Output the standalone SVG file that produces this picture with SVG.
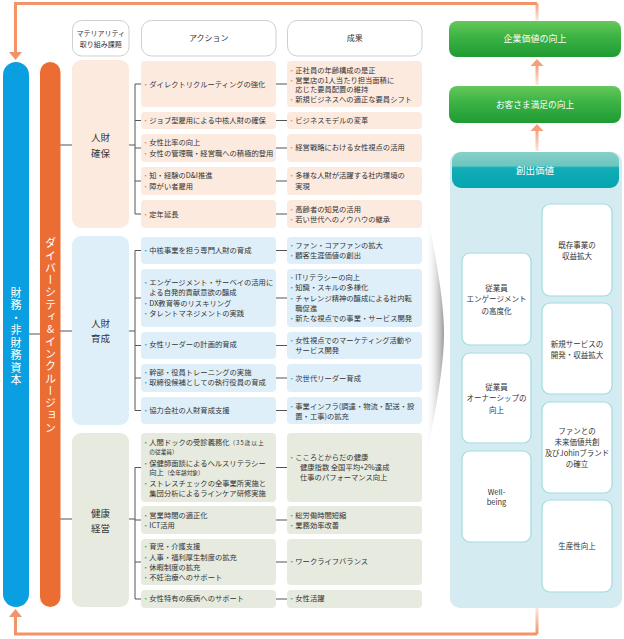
<svg xmlns="http://www.w3.org/2000/svg" width="624" height="639" viewBox="0 0 624 639">
<defs>
<style>
text{font-family:"Noto Sans CJK JP","Noto Sans",sans-serif;}
.t{font-size:7.3px;fill:#333;}
.s{font-size:5.7px;}
.bo{fill:#f08a4b;} .bb{fill:#2aa3dc;} .bg{fill:#3cae3c;}
.hd{fill:#fff;stroke:#cfcfcf;stroke-width:1;}
.ht{font-size:8px;fill:#333;text-anchor:middle;}
.pk{fill:#fdeadf;} .lb{fill:#dfeff9;} .gn{fill:#e6eadf;}
.cat{font-size:9.5px;fill:#333;text-anchor:middle;}
.ln{stroke:#555;stroke-width:1;fill:none;}
.ib{fill:#fff;stroke:#9fdbe2;stroke-width:1.2;}
.it{font-size:7.5px;fill:#333;text-anchor:middle;}
.wt{fill:#fff;text-anchor:middle;}
.ar{stroke:#f3936a;stroke-width:3;fill:none;}
.ah{fill:#f3936a;}
.vt{writing-mode:vertical-rl;text-orientation:upright;font-size:11px;fill:#fff;text-anchor:middle;}
</style>
<linearGradient id="gGreen" x1="0" y1="0" x2="0" y2="1">
<stop offset="0" stop-color="#66c85a"/><stop offset="0.45" stop-color="#3bb244"/><stop offset="1" stop-color="#1f9b33"/>
</linearGradient>
<linearGradient id="gTeal" x1="0" y1="0" x2="0" y2="1">
<stop offset="0" stop-color="#86d0c7"/><stop offset="0.38" stop-color="#6dc6bf"/><stop offset="0.44" stop-color="#12adb6"/><stop offset="1" stop-color="#05a5b0"/>
</linearGradient>
<linearGradient id="fadeDown" x1="0" y1="0" x2="0" y2="1">
<stop offset="0" stop-color="#f5a07a"/><stop offset="1" stop-color="#fde6dc"/>
</linearGradient>
<linearGradient id="fadeUp" x1="0" y1="1" x2="0" y2="0">
<stop offset="0" stop-color="#f3936a"/><stop offset="1" stop-color="#fde6dc"/>
</linearGradient>
<linearGradient id="shade" x1="0" y1="0" x2="1" y2="0">
<stop offset="0" stop-color="#ffffff" stop-opacity="0"/><stop offset="1" stop-color="#9a9a9a"/>
</linearGradient>
</defs>
<rect width="624" height="639" fill="#fff"/>

<!-- loop arrows -->
<g id="connectors">
<path class="ar" d="M537,3.5 H15.5 V53"/>
<polygon class="ah" points="9,52 22,52 15.5,60"/>
<rect x="535.5" y="3.5" width="3" height="17" fill="url(#fadeDown)"/>
<path class="ar" d="M537,634 H15.5 V616"/>
<polygon class="ah" points="9,617 22,617 15.5,609"/>
<rect x="535.5" y="608" width="3" height="26" fill="url(#fadeUp)"/>
<rect x="535.5" y="66" width="3" height="19" fill="url(#fadeDown)"/>
<polygon points="530.5,66 543.5,66 537,59" fill="#f5a07a"/>
<rect x="535.5" y="130" width="3" height="21" fill="url(#fadeDown)"/>
<polygon points="530.5,131 543.5,131 537,124" fill="#f5a07a"/>
<!-- pill connectors -->
<path class="ln" d="M29,334 H40 M60,145 H72 M60,331 H72 M60,519 H72"/>
<!-- trees -->
<path class="ln" d="M129,145 H135 M135,84 V214 M135,84 H141 M135,120.5 H141 M135,148 H141 M135,181 H141 M135,214 H141"/>
<path class="ln" d="M129,331 H135 M135,250.5 V410.5 M135,250.5 H141 M135,298 H141 M135,345.5 H141 M135,378 H141 M135,410.5 H141"/>
<path class="ln" d="M129,519 H135 M135,467.5 V599 M135,467.5 H141 M135,520 H141 M135,562 H141 M135,599 H141"/>
<path class="ln" d="M276,84 H287 M276,120.5 H287 M276,148 H287 M276,181 H287 M276,214 H287 M276,250.5 H287 M276,298 H287 M276,345.5 H287 M276,378 H287 M276,410.5 H287 M276,467.5 H287 M276,520 H287 M276,562 H287 M276,599 H287"/>
</g>

<g id="capital">
<rect x="3" y="62" width="26" height="545" rx="13" fill="#0a9fe0"/>
<text class="vt" x="16" y="337" style="letter-spacing:1.5px">財務・非財務資本</text>
</g>
<g id="diversity">
<rect x="40" y="62" width="20.5" height="545" rx="10.25" fill="#ec6d33"/>
<text class="vt" x="50.5" y="336" style="letter-spacing:1.3px">ダイバーシティ&amp;インクルージョン</text>
</g>

<g id="headers">
<rect class="hd" x="72.5" y="20.5" width="56.5" height="35.5" rx="9"/>
<text class="ht" x="100.7" y="35.5" style="font-size:7px">マテリアリティ</text>
<text class="ht" x="100.7" y="46.5" style="font-size:7px">取り組み課題</text>
<rect class="hd" x="141.5" y="20.5" width="134.5" height="35.5" rx="10"/>
<text class="ht" x="208.7" y="41">アクション</text>
<rect class="hd" x="287.5" y="20.5" width="134.5" height="35.5" rx="10"/>
<text class="ht" x="354.7" y="41">成果</text>
</g>

<g id="cat-hiring">
<rect class="pk" x="72" y="60" width="57" height="168" rx="9"/>
<text class="cat" x="100.5" y="140.5">人財</text>
<text class="cat" x="100.5" y="156.5">確保</text>
</g>
<g id="cat-development">
<rect class="lb" x="72" y="236" width="57" height="189" rx="9"/>
<text class="cat" x="100.5" y="326.5">人財</text>
<text class="cat" x="100.5" y="341.5">育成</text>
</g>
<g id="cat-health">
<rect class="gn" x="72" y="433" width="57" height="174" rx="9"/>
<text class="cat" x="100.5" y="516.5">健康</text>
<text class="cat" x="100.5" y="531.5">経営</text>
</g>

<!-- 人財確保 rows -->
<g id="h1">
<rect class="pk" x="141" y="61" width="135" height="46" rx="4"/>
<text class="t" x="142" y="86.5"><tspan class="bo">・</tspan>ダイレクトリクルーティングの強化</text>
<rect class="pk" x="287" y="61" width="135" height="46" rx="4"/>
<text class="t" x="288" y="72.5"><tspan class="bo">・</tspan>正社員の年齢構成の是正</text>
<text class="t" x="288" y="82.5"><tspan class="bo">・</tspan>営業店の1人当たり担当面積に</text>
<text class="t" x="295.3" y="92.3">応じた要員配置の維持</text>
<text class="t" x="288" y="102.3"><tspan class="bo">・</tspan>新規ビジネスへの適正な要員シフト</text>
</g>
<g id="h2">
<rect class="pk" x="141" y="112" width="135" height="17" rx="4"/>
<text class="t" x="142" y="123"><tspan class="bo">・</tspan>ジョブ型雇用による中核人財の確保</text>
<rect class="pk" x="287" y="112" width="135" height="17" rx="4"/>
<text class="t" x="288" y="123"><tspan class="bo">・</tspan>ビジネスモデルの変革</text>
</g>
<g id="h3">
<rect class="pk" x="141" y="134" width="135" height="28" rx="4"/>
<text class="t" x="142" y="145.2"><tspan class="bo">・</tspan>女性比率の向上</text>
<text class="t" x="142" y="155.8"><tspan class="bo">・</tspan>女性の管理職・経営職への積極的登用</text>
<rect class="pk" x="287" y="134" width="135" height="28" rx="4"/>
<text class="t" x="288" y="150.2"><tspan class="bo">・</tspan>経営戦略における女性視点の活用</text>
</g>
<g id="h4">
<rect class="pk" x="141" y="167" width="135" height="28" rx="4"/>
<text class="t" x="142" y="178.2"><tspan class="bo">・</tspan>知・経験のD&amp;I推進</text>
<text class="t" x="142" y="188.5"><tspan class="bo">・</tspan>障がい者雇用</text>
<rect class="pk" x="287" y="167" width="135" height="28" rx="4"/>
<text class="t" x="288" y="178.2"><tspan class="bo">・</tspan>多様な人財が活躍する社内環境の</text>
<text class="t" x="295.3" y="188.5">実現</text>
</g>
<g id="h5">
<rect class="pk" x="141" y="200" width="135" height="28" rx="4"/>
<text class="t" x="142" y="216.8"><tspan class="bo">・</tspan>定年延長</text>
<rect class="pk" x="287" y="200" width="135" height="28" rx="4"/>
<text class="t" x="288" y="211.5"><tspan class="bo">・</tspan>高齢者の知見の活用</text>
<text class="t" x="288" y="221.5"><tspan class="bo">・</tspan>若い世代へのノウハウの継承</text>
</g>

<!-- 人財育成 rows -->
<g id="d1">
<rect class="lb" x="141" y="237" width="135" height="27" rx="4"/>
<text class="t" x="142" y="252.5"><tspan class="bb">・</tspan>中核事業を担う専門人財の育成</text>
<rect class="lb" x="287" y="237" width="135" height="27" rx="4"/>
<text class="t" x="288" y="247.5"><tspan class="bb">・</tspan>ファン・コアファンの拡大</text>
<text class="t" x="288" y="258.2"><tspan class="bb">・</tspan>顧客生涯価値の創出</text>
</g>
<g id="d2">
<rect class="lb" x="141" y="269" width="135" height="58" rx="4"/>
<text class="t" x="142" y="284.8"><tspan class="bb">・</tspan>エンゲージメント・サーベイの活用に</text>
<text class="t" x="149.3" y="295.2">よる自発的貢献意欲の醸成</text>
<text class="t" x="142" y="305.5"><tspan class="bb">・</tspan>DX教育等のリスキリング</text>
<text class="t" x="142" y="315.8"><tspan class="bb">・</tspan>タレントマネジメントの実践</text>
<rect class="lb" x="287" y="269" width="135" height="58" rx="4"/>
<text class="t" x="288" y="279.8"><tspan class="bb">・</tspan>ITリテラシーの向上</text>
<text class="t" x="288" y="290.2"><tspan class="bb">・</tspan>知識・スキルの多様化</text>
<text class="t" x="288" y="300.5"><tspan class="bb">・</tspan>チャレンジ精神の醸成による社内転</text>
<text class="t" x="295.3" y="310.5">職促進</text>
<text class="t" x="288" y="320.8"><tspan class="bb">・</tspan>新たな視点での事業・サービス開発</text>
</g>
<g id="d3">
<rect class="lb" x="141" y="332" width="135" height="27" rx="4"/>
<text class="t" x="142" y="346.8"><tspan class="bb">・</tspan>女性リーダーの計画的育成</text>
<rect class="lb" x="287" y="332" width="135" height="27" rx="4"/>
<text class="t" x="288" y="342.5"><tspan class="bb">・</tspan>女性視点でのマーケティング活動や</text>
<text class="t" x="295.3" y="353.2">サービス開発</text>
</g>
<g id="d4">
<rect class="lb" x="141" y="364" width="135" height="28" rx="4"/>
<text class="t" x="142" y="374.8"><tspan class="bb">・</tspan>幹部・役員トレーニングの実施</text>
<text class="t" x="142" y="385.2"><tspan class="bb">・</tspan>取締役候補としての執行役員の育成</text>
<rect class="lb" x="287" y="364" width="135" height="28" rx="4"/>
<text class="t" x="288" y="380.8"><tspan class="bb">・</tspan>次世代リーダー育成</text>
</g>
<g id="d5">
<rect class="lb" x="141" y="397" width="135" height="27" rx="4"/>
<text class="t" x="142" y="413.2"><tspan class="bb">・</tspan>協力会社の人財育成支援</text>
<rect class="lb" x="287" y="397" width="135" height="27" rx="4"/>
<text class="t" x="288" y="408.5"><tspan class="bb">・</tspan>事業インフラ(調達・物流・配送・設</text>
<text class="t" x="295.3" y="419.2">置・工事)の拡充</text>
</g>

<!-- 健康経営 rows -->
<g id="k1">
<rect class="gn" x="141" y="433" width="135" height="69" rx="4"/>
<text class="t" x="142" y="444.5"><tspan class="bg">・</tspan>人間ドックの受診義務化<tspan class="s" style="letter-spacing:1px">（35歳以上</tspan></text>
<text class="t s" x="149.3" y="453.5">の従業員）</text>
<text class="t" x="142" y="465.5"><tspan class="bg">・</tspan>保健師面談によるヘルスリテラシー</text>
<text class="t" x="149.3" y="474.8">向上<tspan class="s">（全年齢対象）</tspan></text>
<text class="t" x="142" y="485.5"><tspan class="bg">・</tspan>ストレスチェックの全事業所実施と</text>
<text class="t" x="149.3" y="495.8">集団分析によるラインケア研修実施</text>
<rect class="gn" x="287" y="433" width="135" height="69" rx="4"/>
<text class="t" x="288" y="460.2"><tspan class="bg">・</tspan>こころとからだの健康</text>
<text class="t" x="300" y="470.2">健康指数 全国平均+2%達成</text>
<text class="t" x="300" y="480.2">仕事のパフォーマンス向上</text>
</g>
<g id="k2">
<rect class="gn" x="141" y="506" width="135" height="28" rx="4"/>
<text class="t" x="142" y="517.5"><tspan class="bg">・</tspan>営業時間の適正化</text>
<text class="t" x="142" y="527.5"><tspan class="bg">・</tspan>ICT活用</text>
<rect class="gn" x="287" y="506" width="135" height="28" rx="4"/>
<text class="t" x="288" y="517.5"><tspan class="bg">・</tspan>総労働時間短縮</text>
<text class="t" x="288" y="527.5"><tspan class="bg">・</tspan>業務効率改善</text>
</g>
<g id="k3">
<rect class="gn" x="141" y="539" width="135" height="46" rx="4"/>
<text class="t" x="142" y="549.2"><tspan class="bg">・</tspan>育児・介護支援</text>
<text class="t" x="142" y="559.8"><tspan class="bg">・</tspan>人事・福利厚生制度の拡充</text>
<text class="t" x="142" y="570.2"><tspan class="bg">・</tspan>休暇制度の拡充</text>
<text class="t" x="142" y="580.2"><tspan class="bg">・</tspan>不妊治療へのサポート</text>
<rect class="gn" x="287" y="539" width="135" height="46" rx="4"/>
<text class="t" x="288" y="564.2"><tspan class="bg">・</tspan>ワークライフバランス</text>
</g>
<g id="k4">
<rect class="gn" x="141" y="590" width="135" height="18" rx="4"/>
<text class="t" x="142" y="600.8"><tspan class="bg">・</tspan>女性特有の疾病へのサポート</text>
<rect class="gn" x="287" y="590" width="135" height="18" rx="4"/>
<text class="t" x="288" y="600.8"><tspan class="bg">・</tspan>女性活躍</text>
</g>

<!-- page curl shadow -->
<path d="M426,205 C436,260 444,300 444,333 C444,366 436,410 426,458 Z" fill="url(#shade)"/>

<g id="corp-value">
<rect x="449" y="21" width="172" height="36" rx="8" fill="url(#gGreen)"/>
<text class="wt" x="535" y="42" style="font-size:9px">企業価値の向上</text>
</g>
<g id="customer">
<rect x="449" y="86" width="172" height="37" rx="8" fill="url(#gGreen)"/>
<text class="wt" x="535" y="107.5" style="font-size:8.7px">お客さま満足の向上</text>
</g>

<g id="created-value">
<rect x="450" y="152" width="172" height="456" rx="10" fill="#d4ecf1"/>
<rect x="452" y="152" width="167" height="36" rx="9" fill="url(#gTeal)"/>
<text class="wt" x="535" y="174" style="font-size:9.5px">創出価値</text>
</g>
<g id="v-engagement">
<rect class="ib" x="462" y="253" width="69" height="92" rx="8"/>
<text class="it" x="496.5" y="290.5">従業員</text>
<text class="it" x="496.5" y="302">エンゲージメント</text>
<text class="it" x="496.5" y="313.5">の高度化</text>
</g>
<g id="v-ownership">
<rect class="ib" x="462" y="353" width="69" height="90" rx="8"/>
<text class="it" x="496.5" y="389.5">従業員</text>
<text class="it" x="496.5" y="401">オーナーシップの</text>
<text class="it" x="496.5" y="412.5">向上</text>
</g>
<g id="v-wellbeing">
<rect class="ib" x="462" y="451" width="69" height="91" rx="8"/>
<text class="it" x="496.5" y="494.5">Well-</text>
<text class="it" x="496.5" y="505">being</text>
</g>
<g id="v-existing">
<rect class="ib" x="542" y="204" width="70" height="92" rx="8"/>
<text class="it" x="577" y="247.5">既存事業の</text>
<text class="it" x="577" y="259">収益拡大</text>
</g>
<g id="v-new">
<rect class="ib" x="542" y="303" width="70" height="91" rx="8"/>
<text class="it" x="577" y="346.5">新規サービスの</text>
<text class="it" x="577" y="358">開発・収益拡大</text>
</g>
<g id="v-fan">
<rect class="ib" x="542" y="402" width="70" height="91" rx="8"/>
<text class="it" x="577" y="433.5">ファンとの</text>
<text class="it" x="577" y="444.5">未来価値共創</text>
<text class="it" x="577" y="455.5">及びJohinブランド</text>
<text class="it" x="577" y="466.5">の確立</text>
</g>
<g id="v-productivity">
<rect class="ib" x="542" y="500" width="70" height="92" rx="8"/>
<text class="it" x="577" y="548.5">生産性向上</text>
</g>
</svg>
